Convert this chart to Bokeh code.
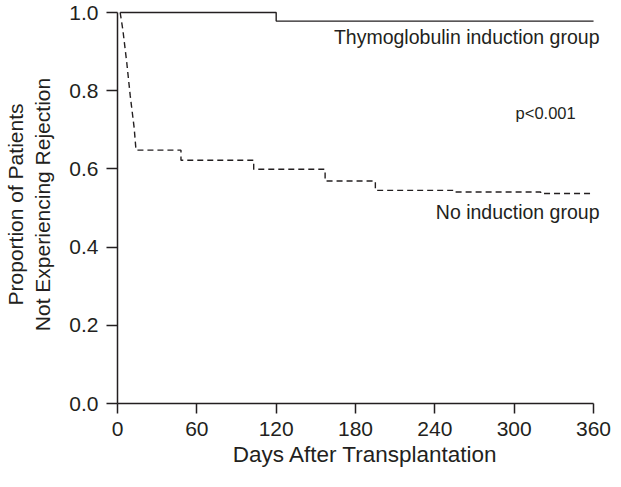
from bokeh.plotting import figure
from bokeh.models import Range1d, FixedTicker
from bokeh.core.properties import value
from bokeh.embed import file_html
from bokeh.resources import INLINE

# ---- data ----
thymo_start_day = [2]
thymo_start_surv = [1.0]
thymo_event_days = [120]
thymo_event_surv = [0.978]

noind_early_days = [2, 4, 7, 9.6, 12.6, 14]
noind_early_surv = [1.0, 0.957, 0.872, 0.788, 0.705, 0.648]
noind_event_days = [48, 103, 157, 195, 255, 320]
noind_event_surv = [0.622, 0.599, 0.569, 0.545, 0.541, 0.537]

end_day = 360

x_ticks = [0, 60, 120, 180, 240, 300, 360]
x_tick_labels = ["0", "60", "120", "180", "240", "300", "360"]
y_ticks = [0.0, 0.2, 0.4, 0.6, 0.8, 1.0]
y_tick_labels = ["0.0", "0.2", "0.4", "0.6", "0.8", "1.0"]

annot_text = ["Thymoglobulin induction group", "No induction group"]
annot_x = [364.5, 364.5]
annot_y = [0.937, 0.491]
pval_text = ["p<0.001"]
pval_x = [346.5]
pval_y = [0.744]

x_title = "Days After Transplantation"
y_title = "Proportion of Patients\nNot Experiencing Rejection"


def step_path(start_x, start_y, ev_x, ev_y, last_x):
    xs = list(start_x)
    ys = list(start_y)
    cur = ys[-1]
    for dx, dy in zip(ev_x, ev_y):
        xs += [dx, dx]
        ys += [cur, dy]
        cur = dy
    xs.append(last_x)
    ys.append(cur)
    return xs, ys


INK = "#231f20"
FONT = "Liberation Sans"

p = figure(width=613, height=471, output_backend="svg", toolbar_location=None,
           x_range=Range1d(0, 375.09), y_range=Range1d(0, 1.0179),
           min_border_left=116, min_border_right=0, min_border_top=5,
           min_border_bottom=68)
p.outline_line_color = None
p.grid.visible = False
p.background_fill_color = "white"
p.border_fill_color = "white"

tx, ty = step_path(thymo_start_day, thymo_start_surv, thymo_event_days, thymo_event_surv, end_day)
p.line(tx, ty, line_color=INK, line_width=1.4)

nx, ny = step_path(noind_early_days, noind_early_surv, noind_event_days, noind_event_surv, end_day)
p.line(nx, ny, line_color=INK, line_width=1.4, line_dash="6 4")

p.text(x=annot_x, y=annot_y, text=annot_text, text_align="right", text_baseline="middle",
       text_font=value(FONT), text_font_size="19.5px", text_color=INK)
p.text(x=pval_x, y=pval_y, text=pval_text, text_align="right", text_baseline="middle",
       text_font=value(FONT), text_font_size="16.5px", text_color=INK)

for ax, ticks, labels in ((p.xaxis[0], x_ticks, x_tick_labels), (p.yaxis[0], y_ticks, y_tick_labels)):
    ax.ticker = FixedTicker(ticks=ticks)
    ax.major_label_overrides = {t: l for t, l in zip(ticks, labels)}
    ax.minor_tick_in = 0
    ax.minor_tick_out = 0
    ax.major_tick_in = 0
    ax.major_tick_out = 10
    ax.axis_line_color = INK
    ax.axis_line_width = 1.5
    ax.major_tick_line_color = INK
    ax.major_tick_line_width = 1.5
    ax.major_label_text_font = FONT
    ax.major_label_text_font_size = "21px"
    ax.major_label_text_color = INK
    ax.axis_label_text_font = FONT
    ax.axis_label_text_font_style = "normal"
    ax.axis_label_text_color = INK

p.xaxis[0].bounds = (0, 360)
p.xaxis[0].major_label_standoff = 8
p.xaxis[0].axis_label = x_title
p.xaxis[0].axis_label_text_font_size = "22.5px"
p.xaxis[0].axis_label_standoff = 3

p.yaxis[0].bounds = (0, 1)
p.yaxis[0].major_tick_out = 11
p.yaxis[0].major_label_standoff = 8
p.yaxis[0].axis_label = y_title
p.yaxis[0].axis_label_text_font_size = "21px"
p.yaxis[0].axis_label_standoff = 12

open("out.html", "w").write(file_html(p, INLINE))
